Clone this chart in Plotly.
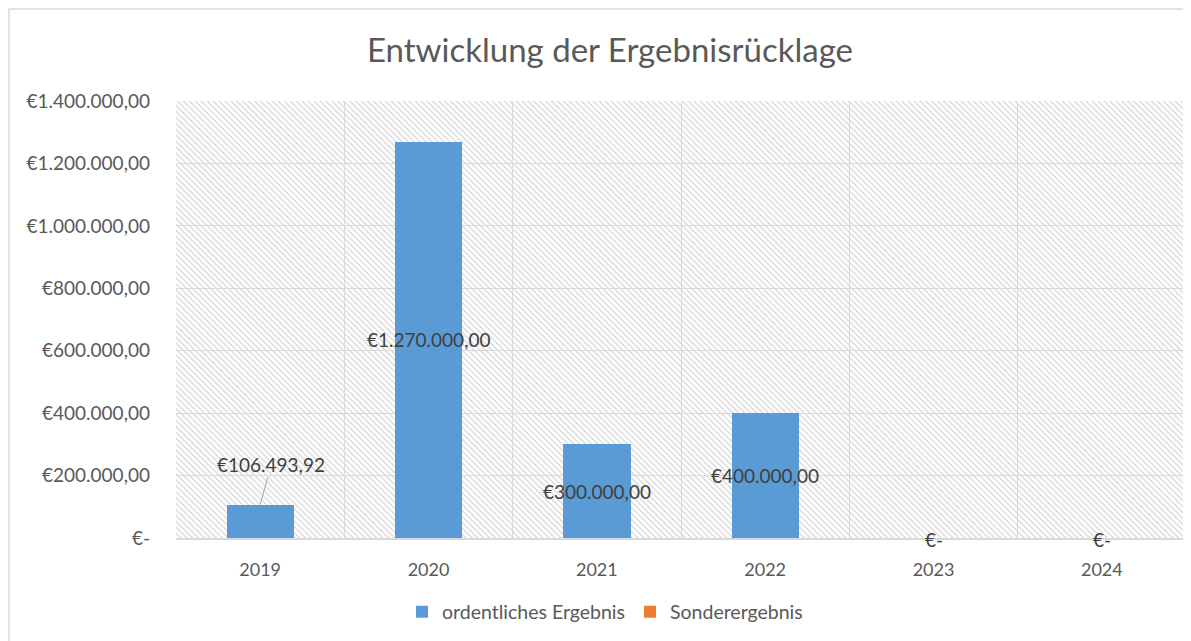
import base64
import plotly.graph_objects as go

# ---- data ----
years = ["2019", "2020", "2021", "2022", "2023", "2024"]
ordentlich = [106493.92, 1270000.00, 300000.00, 400000.00, 0.0, 0.0]
sonder = [0.0, 0.0, 0.0, 0.0, 0.0, 0.0]
ytick_vals = [0, 200000, 400000, 600000, 800000, 1000000, 1200000, 1400000]
ytick_text = ["€-", "€200.000,00", "€400.000,00", "€600.000,00", "€800.000,00",
              "€1.000.000,00", "€1.200.000,00", "€1.400.000,00"]
title_text = "Entwicklung der Ergebnisrücklage"
series_names = ["ordentliches Ergebnis", "Sonderergebnis"]

FONT = "Lato"
TXT = "#595959"
LBL = "#404040"
GRID = "#d9d9d9"

FW, FH = 1183, 633
ML, MR, MT, MB = 168, 5, 93, 103
PW, PH = FW - ML - MR, FH - MT - MB


def eur(v):
    if v == 0:
        return "€-"
    s = f"{v:,.2f}"
    s = s.replace(",", "X").replace(".", ",").replace("X", ".")
    return "€" + s


# hatch background as an svg image
svg = (
    f'<svg xmlns="http://www.w3.org/2000/svg" width="{PW}" height="{PH}" viewBox="0 0 {PW} {PH}">'
    '<defs><pattern id="p" patternUnits="userSpaceOnUse" width="4.2" height="4.2" '
    'patternTransform="rotate(-45)">'
    '<rect width="4.2" height="4.2" fill="#ffffff"/>'
    '<line x1="1" y1="0" x2="1" y2="4.2" stroke="#dcdcdc" stroke-width="1.5"/>'
    '</pattern></defs>'
    f'<rect width="{PW}" height="{PH}" fill="url(#p)"/></svg>'
)
hatch_src = "data:image/svg+xml;base64," + base64.b64encode(svg.encode()).decode()

fig = go.Figure()
fig.add_trace(go.Bar(x=years, y=ordentlich, name=series_names[0],
                     marker=dict(color="#5b9bd5", line=dict(width=0))))
fig.add_trace(go.Bar(x=years, y=sonder, name=series_names[1],
                     marker=dict(color="#ed7d31", line=dict(width=0))))

# data labels (x given as category index)
for i, v in enumerate(ordentlich):
    if v == 0:
        fig.add_annotation(x=i, y=0, text=eur(v), showarrow=False,
                           yanchor="middle", yshift=-1,
                           font=dict(family=FONT, size=19, color=LBL))
    elif v < 200000:
        fig.add_annotation(x=i, y=v, text=eur(v), showarrow=True,
                           arrowhead=0, arrowwidth=1, arrowcolor="#a6a6a6",
                           ax=11, ay=-40, standoff=0,
                           font=dict(family=FONT, size=19, color=LBL))
    else:
        fig.add_annotation(x=i, y=v / 2, text=eur(v), showarrow=False,
                           font=dict(family=FONT, size=19, color=LBL))

fig.add_layout_image(dict(source=hatch_src, xref="paper", yref="paper",
                          x=0, y=1, sizex=1, sizey=1, sizing="stretch",
                          xanchor="left", yanchor="top", layer="below"))

# outer chart border
fig.add_shape(type="rect", xref="paper", yref="paper",
              x0=-(ML - 1) / PW, y0=-0.4, x1=1.05, y1=1 + (MT - 1) / PH,
              line=dict(color=GRID, width=1.5), fillcolor="rgba(0,0,0,0)",
              layer="above")

fig.update_layout(
    width=FW, height=FH,
    margin=dict(l=ML, r=MR, t=MT, b=MB),
    paper_bgcolor="white", plot_bgcolor="rgba(0,0,0,0)",
    barmode="stack", bargap=0.6,
    title=dict(text=title_text, x=602 / FW, xref="container", xanchor="center",
               y=1 - 42 / FH, yref="container", yanchor="middle",
               font=dict(family=FONT, size=33, color=TXT)),
    font=dict(family=FONT, color=TXT),
    showlegend=True,
    legend=dict(orientation="h", xref="container", x=597 / FW, xanchor="center",
                yref="container", y=1 - 604 / FH, yanchor="middle",
                font=dict(family=FONT, size=19.5, color=TXT),
                itemwidth=30, traceorder="normal"),
    xaxis=dict(type="category", categoryorder="array", categoryarray=years,
               range=[-0.5, len(years) - 0.5],
               tickson="boundaries", showgrid=True,
               gridcolor=GRID, gridwidth=1.3, showline=True, linecolor=GRID,
               linewidth=2, ticks="", tickangle=0,
               tickfont=dict(family=FONT, size=18, color=TXT),
               ticklabelstandoff=14, mirror=False, zeroline=False),
    yaxis=dict(range=[0, 1400000], tickvals=ytick_vals, ticktext=ytick_text,
               showgrid=True, gridcolor=GRID, gridwidth=1.3, zeroline=False,
               showline=False, ticks="", ticklabelstandoff=25,
               tickfont=dict(family=FONT, size=19, color=TXT)),
)

fig.write_html("out.html")
